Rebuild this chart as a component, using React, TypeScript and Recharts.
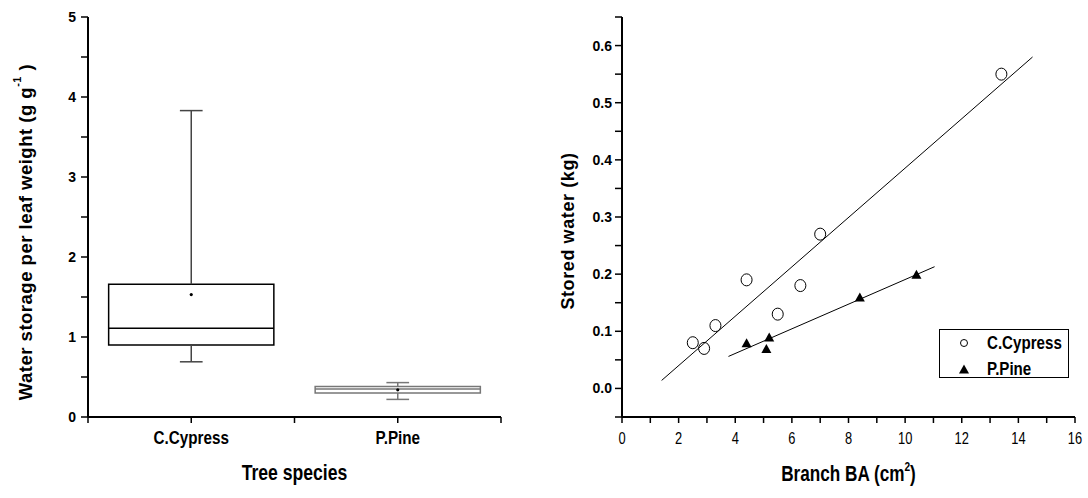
import React from 'react';
import { ScatterChart, XAxis, YAxis, Scatter, ReferenceArea, ReferenceLine, Legend, Label } from 'recharts';

// ---------- Left panel data (box plot) ----------
const speciesNames = ['C.Cypress', 'P.Pine'];
const speciesPos = [1, 2];
const whiskerLow = [0.69, 0.22];
const boxLow = [0.9, 0.3];
const medians = [1.11, 0.35];
const boxHigh = [1.66, 0.38];
const whiskerHigh = [3.83, 0.43];
const means = [1.53, 0.34];
const leftYTicks = [0, 0.5, 1, 1.5, 2, 2.5, 3, 3.5, 4, 4.5, 5];
const leftXTicks = [0.5, 1, 1.5, 2, 2.5];

// ---------- Right panel data (scatter + fits) ----------
const cypressX = [2.5, 2.9, 3.3, 4.4, 5.5, 6.3, 7.0, 13.4];
const cypressY = [0.08, 0.07, 0.11, 0.19, 0.13, 0.18, 0.27, 0.55];
const pineX = [4.4, 5.1, 5.2, 8.4, 10.4];
const pineY = [0.08, 0.07, 0.09, 0.16, 0.2];
const cypressFitX = [1.4, 14.5];
const cypressFitY = [0.014, 0.58];
const pineFitX = [3.76, 11.04];
const pineFitY = [0.056, 0.213];
const rightXTicks = [0, 1, 2, 3, 4, 5, 6, 7, 8, 9, 10, 11, 12, 13, 14, 15, 16];
const rightYTicks = [-0.05, 0, 0.05, 0.1, 0.15, 0.2, 0.25, 0.3, 0.35, 0.4, 0.45, 0.5, 0.55, 0.6, 0.65];
const seriesNames = ['C.Cypress', 'P.Pine'];

// ---------- styles ----------
const ARIAL = '"Liberation Sans", Arial, sans-serif';
const boxColors = ['#000', '#777'];
const whiskerColors = ['#444', '#777'];
const BOX_HALF = 0.4;
const CAP_HALF = 0.055;

const axisLine = { stroke: '#000', strokeWidth: 2 };
const tickLine = { stroke: '#000', strokeWidth: 1.5 };

const meanData = speciesPos.map((x, i) => ({ x, y: means[i] }));
const cypressData = cypressX.map((x, i) => ({ x, y: cypressY[i] }));
const pineData = pineX.map((x, i) => ({ x, y: pineY[i] }));

const MeanDot = (p: any) => <circle cx={p.cx} cy={p.cy} r={1.6} fill="#000" />;
const OpenCircle = (p: any) => <ellipse cx={p.cx} cy={p.cy} rx={5.5} ry={6} fill="none" stroke="#000" strokeWidth={1} />;
const Triangle = (p: any) => (
  <polygon points={`${p.cx - 5},${p.cy + 4.5} ${p.cx + 5},${p.cy + 4.5} ${p.cx},${p.cy - 4.5}`} fill="#000" />
);

// Narrow-looking text: Liberation Sans squeezed horizontally (Arial Narrow look)
const NarrowText = ({ x, y, sx, fs, bold, children }: any) => (
  <text
    transform={`translate(${x},${y}) scale(${sx},1)`}
    x={0}
    y={0}
    textAnchor="middle"
    fontFamily={ARIAL}
    fontWeight={bold ? 'bold' : 'normal'}
    fontSize={fs}
    fill="#000"
  >
    {children}
  </text>
);

const CategoryTick = (p: any) => {
  const i = speciesPos.indexOf(p.payload.value);
  if (i < 0) return null;
  return (
    <NarrowText x={p.x} y={p.y + 13} sx={0.87} fs={17.5} bold>
      {speciesNames[i]}
    </NarrowText>
  );
};

const RightXTick = (p: any) => {
  const v = p.payload.value;
  if (v % 2 !== 0) return null;
  return (
    <NarrowText x={p.x} y={p.y + 13} sx={0.78} fs={16.5}>
      {String(v)}
    </NarrowText>
  );
};

const LegendBox = () => (
  <div style={{ width: 128, height: 47, border: '1.5px solid #000', background: '#fff', position: 'relative', fontFamily: ARIAL, fontWeight: 'bold', fontSize: 18 }}>
    {seriesNames.map((n, i) => (
      <div key={n} style={{ position: 'absolute', left: 0, top: i === 0 ? 3 : 29, height: 20, display: 'flex', alignItems: 'center' }}>
        <svg width={40} height={20} style={{ display: 'block' }}>
          {i === 0 ? (
            <circle cx={24} cy={10} r={3.5} fill="none" stroke="#000" strokeWidth={1} />
          ) : (
            <polygon points="19,14.5 29,14.5 24,5.5" fill="#000" />
          )}
        </svg>
        <span style={{ marginLeft: 7, display: 'inline-block', transform: 'scaleX(0.84)', transformOrigin: 'left center', whiteSpace: 'nowrap', lineHeight: '20px' }}>{n}</span>
      </div>
    ))}
  </div>
);

export default function App() {
  return (
    <div style={{ position: 'absolute', left: 0, top: 0, width: 1088, height: 498, background: '#fff' }}>
      {/* Left panel */}
      <div style={{ position: 'absolute', left: 0, top: 0 }}>
        <ScatterChart width={520} height={498} margin={{ top: 17, right: 19, bottom: 51, left: 0 }}>
          <XAxis
            type="number"
            dataKey="x"
            domain={[0.5, 2.5]}
            ticks={leftXTicks}
            interval={0}
            allowDataOverflow
            height={30}
            axisLine={axisLine}
            tickLine={tickLine}
            tickSize={6}
            tickMargin={8}
            tick={CategoryTick}
          >
            <Label
              content={(props: any) => {
                const vb = props.viewBox;
                return (
                  <NarrowText x={vb.x + vb.width / 2} y={vb.y + 63} sx={0.8} fs={22} bold>
                    Tree species
                  </NarrowText>
                );
              }}
            />
          </XAxis>
          <YAxis
            type="number"
            dataKey="y"
            domain={[0, 5]}
            ticks={leftYTicks}
            interval={0}
            width={88}
            axisLine={axisLine}
            tickLine={tickLine}
            tickSize={7}
            tickMargin={5}
            tickFormatter={(v: number) => (Number.isInteger(v) ? String(v) : '')}
            tick={{ fill: '#000', fontSize: 14, fontWeight: 'bold', fontFamily: ARIAL }}
          >
            <Label
              content={(props: any) => {
                const vb = props.viewBox;
                const cx = vb.x + 25;
                const cy = vb.y + 215;
                return (
                  <text x={cx} y={cy} transform={`rotate(-90, ${cx}, ${cy})`} textAnchor="middle" dominantBaseline="central" fontFamily={ARIAL} fontWeight="bold" fontSize={18.5} letterSpacing={0.5} fill="#000">
                    Water storage per leaf weight (g g
                    <tspan fontSize={11} dy={-8}>-1</tspan>
                    <tspan dy={8}> )</tspan>
                  </text>
                );
              }}
            />
          </YAxis>
          {speciesPos.map((x, i) => (
            <ReferenceLine key={`wh${i}`} segment={[{ x, y: boxHigh[i] }, { x, y: whiskerHigh[i] }]} stroke={whiskerColors[i]} strokeWidth={1.5} />
          ))}
          {speciesPos.map((x, i) => (
            <ReferenceLine key={`wl${i}`} segment={[{ x, y: whiskerLow[i] }, { x, y: boxLow[i] }]} stroke={whiskerColors[i]} strokeWidth={1.5} />
          ))}
          {speciesPos.map((x, i) => (
            <ReferenceLine key={`ch${i}`} segment={[{ x: x - CAP_HALF, y: whiskerHigh[i] }, { x: x + CAP_HALF, y: whiskerHigh[i] }]} stroke={whiskerColors[i]} strokeWidth={1.5} />
          ))}
          {speciesPos.map((x, i) => (
            <ReferenceLine key={`cl${i}`} segment={[{ x: x - CAP_HALF, y: whiskerLow[i] }, { x: x + CAP_HALF, y: whiskerLow[i] }]} stroke={whiskerColors[i]} strokeWidth={1.5} />
          ))}
          {speciesPos.map((x, i) => (
            <ReferenceArea key={`b${i}`} x1={x - BOX_HALF} x2={x + BOX_HALF} y1={boxLow[i]} y2={boxHigh[i]} fill="#fff" fillOpacity={1} stroke={boxColors[i]} strokeWidth={1.5} strokeOpacity={1} />
          ))}
          {speciesPos.map((x, i) => (
            <ReferenceLine key={`m${i}`} segment={[{ x: x - BOX_HALF, y: medians[i] }, { x: x + BOX_HALF, y: medians[i] }]} stroke={boxColors[i]} strokeWidth={1.5} />
          ))}
          <Scatter data={meanData} dataKey="y" shape={MeanDot} isAnimationActive={false} />
        </ScatterChart>
      </div>

      {/* Right panel */}
      <div style={{ position: 'absolute', left: 540, top: 0 }}>
        <ScatterChart width={548} height={498} margin={{ top: 17, right: 13, bottom: 51, left: 0 }}>
          <XAxis
            type="number"
            dataKey="x"
            domain={[0, 16]}
            ticks={rightXTicks}
            interval={0}
            allowDataOverflow
            height={30}
            axisLine={axisLine}
            tickLine={tickLine}
            tickSize={6}
            tickMargin={8}
            tick={RightXTick}
          >
            <Label
              content={(props: any) => {
                const vb = props.viewBox;
                const cx = vb.x + vb.width / 2;
                return (
                  <NarrowText x={cx} y={vb.y + 64} sx={0.78} fs={22} bold>
                    Branch BA (cm
                    <tspan fontSize={13} dy={-10}>2</tspan>
                    <tspan dy={10}>)</tspan>
                  </NarrowText>
                );
              }}
            />
          </XAxis>
          <YAxis
            type="number"
            dataKey="y"
            domain={[-0.05, 0.65]}
            ticks={rightYTicks}
            interval={0}
            allowDataOverflow
            width={82}
            axisLine={axisLine}
            tickLine={tickLine}
            tickSize={7}
            tickMargin={3}
            tickFormatter={(v: number) => {
              const k = Math.round(v * 100);
              return k >= 0 && k % 10 === 0 ? (k / 100).toFixed(1) : '';
            }}
            tick={{ fill: '#000', fontSize: 14, fontWeight: 'bold', fontFamily: ARIAL }}
          >
            <Label
              content={(props: any) => {
                const vb = props.viewBox;
                const cx = vb.x + 28;
                const cy = vb.y + 214;
                return (
                  <text x={cx} y={cy} transform={`rotate(-90, ${cx}, ${cy})`} textAnchor="middle" dominantBaseline="central" fontFamily={ARIAL} fontWeight="bold" fontSize={18} letterSpacing={0.6} fill="#000">
                    Stored water (kg)
                  </text>
                );
              }}
            />
          </YAxis>
          <ReferenceLine segment={[{ x: cypressFitX[0], y: cypressFitY[0] }, { x: cypressFitX[1], y: cypressFitY[1] }]} stroke="#000" strokeWidth={1} />
          <ReferenceLine segment={[{ x: pineFitX[0], y: pineFitY[0] }, { x: pineFitX[1], y: pineFitY[1] }]} stroke="#000" strokeWidth={1} />
          <Scatter name={seriesNames[0]} data={cypressData} dataKey="y" shape={OpenCircle} isAnimationActive={false} />
          <Scatter name={seriesNames[1]} data={pineData} dataKey="y" shape={Triangle} isAnimationActive={false} />
          <Legend
            layout="vertical"
            verticalAlign="middle"
            align="center"
            wrapperStyle={{ left: 399, top: 329, width: 131, height: 50 }}
            content={() => <LegendBox />}
          />
        </ScatterChart>
      </div>
    </div>
  );
}
